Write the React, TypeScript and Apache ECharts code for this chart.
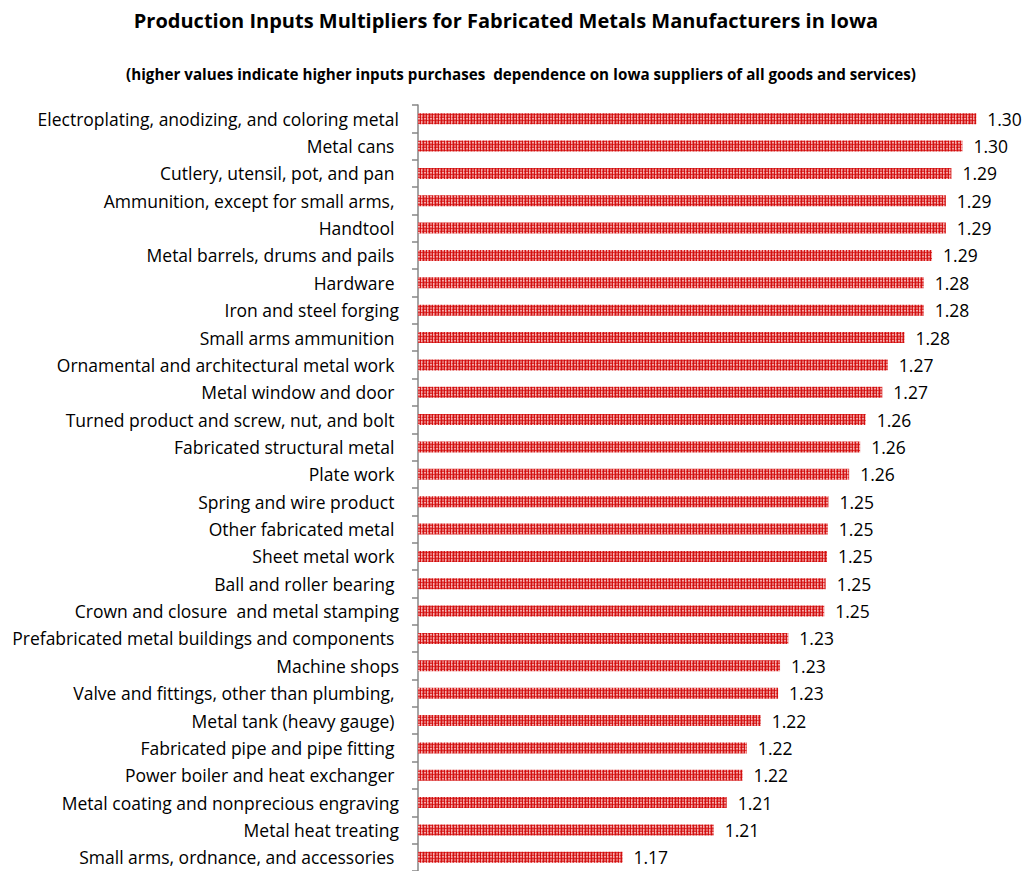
import React, { useEffect, useRef } from "react";
import * as echarts from "echarts";

const titleText = "Production Inputs Multipliers for Fabricated Metals Manufacturers in Iowa";
const subtitleText = "(higher values indicate higher inputs purchases  dependence on Iowa suppliers of all goods and services)";

const categories = [
  "Electroplating, anodizing, and coloring metal",
  "Metal cans ",
  "Cutlery, utensil, pot, and pan ",
  "Ammunition, except for small arms, ",
  "Handtool ",
  "Metal barrels, drums and pails ",
  "Hardware ",
  "Iron and steel forging",
  "Small arms ammunition ",
  "Ornamental and architectural metal work ",
  "Metal window and door ",
  "Turned product and screw, nut, and bolt ",
  "Fabricated structural metal ",
  "Plate work ",
  "Spring and wire product ",
  "Other fabricated metal ",
  "Sheet metal work ",
  "Ball and roller bearing ",
  "Crown and closure  and metal stamping",
  "Prefabricated metal buildings and components ",
  "Machine shops",
  "Valve and fittings, other than plumbing, ",
  "Metal tank (heavy gauge) ",
  "Fabricated pipe and pipe fitting ",
  "Power boiler and heat exchanger ",
  "Metal coating and nonprecious engraving",
  "Metal heat treating",
  "Small arms, ordnance, and accessories ",
];

const values = [
  1.302, 1.297, 1.293, 1.291, 1.291, 1.286, 1.283, 1.283, 1.276, 1.27,
  1.268, 1.262, 1.26, 1.256, 1.2485, 1.2483, 1.248, 1.2475, 1.247, 1.234,
  1.231, 1.2303, 1.224, 1.219, 1.2174, 1.2117, 1.207, 1.174,
];

const axisMin = 1.1;
const axisMax = 1.32;

function makePattern(): HTMLCanvasElement {
  const c = document.createElement("canvas");
  c.width = 6;
  c.height = 6;
  const ctx = c.getContext("2d")!;
  ctx.fillStyle = "#e66a6a";
  ctx.fillRect(0, 0, 6, 6);
  ctx.fillStyle = "rgba(208,0,0,0.8)";
  ctx.fillRect(0, 0, 1, 6);
  ctx.fillRect(3, 0, 1, 6);
  ctx.fillStyle = "rgba(208,0,0,0.5)";
  ctx.fillRect(0, 0, 6, 1);
  ctx.fillRect(0, 3, 6, 1);
  ctx.fillStyle = "rgba(255,225,225,0.55)";
  ctx.fillRect(1, 1, 1, 5);
  ctx.fillRect(4, 4, 2, 1);
  return c;
}

export default function App() {
  const ref = useRef<HTMLDivElement>(null);
  useEffect(() => {
    document.body.style.margin = "0";
    if (!ref.current) return;
    const chart = echarts.init(ref.current, undefined, { renderer: "svg" });
    const font = "'Open Sans', sans-serif";
    chart.setOption({
      animation: false,
      backgroundColor: "#ffffff",
      graphic: [
        {
          type: "text",
          x: 506,
          y: 20,
          style: {
            text: titleText,
            font: `bold 20px ${font}`,
            fill: "#000",
            align: "center",
            verticalAlign: "middle",
          },
        },
        {
          type: "text",
          x: 521,
          y: 74,
          style: {
            text: subtitleText,
            font: `bold 15.2px ${font}`,
            fill: "#000",
            align: "center",
            verticalAlign: "middle",
          },
        },
      ],
      grid: { left: 418, right: 0, top: 105, bottom: -1, containLabel: false },
      xAxis: {
        type: "value",
        min: axisMin,
        max: axisMax,
        show: false,
      },
      yAxis: {
        type: "category",
        inverse: true,
        data: categories,
        axisLine: { show: true, lineStyle: { color: "#868686", width: 1.5 } },
        axisTick: { show: true, length: 6, lineStyle: { color: "#868686", width: 1.5 } },
        axisLabel: {
          color: "#000",
          fontSize: 17.5,
          fontFamily: font,
          margin: 19,
        },
      },
      series: [
        {
          type: "bar",
          data: values,
          barWidth: 11,
          itemStyle: { color: { image: makePattern(), repeat: "repeat" } },
          label: {
            show: true,
            position: "right",
            distance: 11,
            color: "#000",
            fontSize: 17.5,
            fontFamily: font,
            formatter: (p: any) => Number(p.value).toFixed(2),
          },
        },
      ],
    });
    return () => chart.dispose();
  }, []);
  return <div ref={ref} style={{ width: 1026, height: 871 }} />;
}
